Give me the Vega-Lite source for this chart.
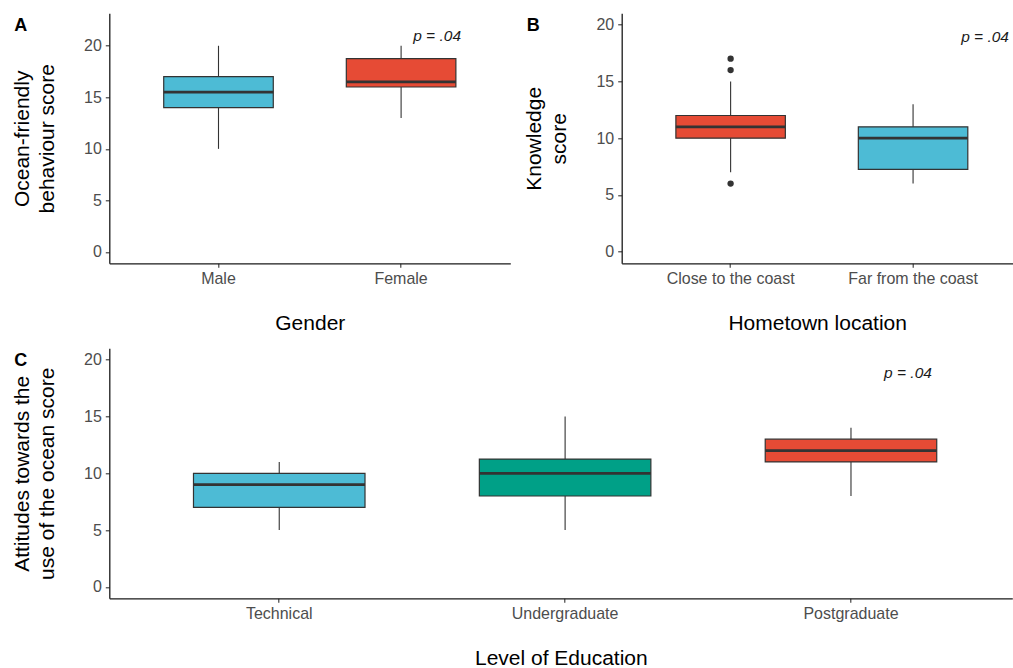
{
  "$schema": "https://vega.github.io/schema/vega-lite/v6.json",
  "background": "white",
  "padding": {"left": 10.3, "top": 13.3, "right": 0, "bottom": 0},
  "config": {
    "view": {"stroke": null},
    "font": "Liberation Sans",
    "axis": {
      "grid": false,
      "domainColor": "#1a1a1a",
      "domainWidth": 1.3,
      "tickColor": "#333333",
      "tickWidth": 1.1,
      "tickSize": 4,
      "labelFont": "Liberation Sans",
      "labelFontSize": 16,
      "labelColor": "#4d4d4d",
      "titleFont": "Liberation Sans",
      "titleFontSize": 21,
      "titleFontWeight": "normal",
      "titleColor": "#000000",
      "titleLineHeight": 25
    },
    "axisX": {"labelAngle": 0, "labelPadding": 3.5, "titleY": 49.5, "titleBaseline": "top"},
    "axisY": {"labelPadding": 4, "titleX": -81, "titleBaseline": "alphabetic"},
    "title": {"font": "Liberation Sans", "fontSize": 18, "fontWeight": "bold", "color": "#000000", "anchor": "start", "frame": "group", "orient": "top", "baseline": "top", "offset": -22, "dx": -95}
  },
  "datasets": {
    "gender": [
      {"Gender": "Male", "lower": 10, "q1": 14, "median": 15.5, "q3": 17, "upper": 20},
      {"Gender": "Female", "lower": 13, "q1": 16, "median": 16.5, "q3": 18.75, "upper": 20}
    ],
    "hometown": [
      {"Hometown": "Close to the coast", "lower": 7, "q1": 10, "median": 11, "q3": 12, "upper": 15},
      {"Hometown": "Far from the coast", "lower": 6, "q1": 7.25, "median": 10, "q3": 11, "upper": 13}
    ],
    "hometown_out": [
      {"Hometown": "Close to the coast", "value": 17},
      {"Hometown": "Close to the coast", "value": 16},
      {"Hometown": "Close to the coast", "value": 6}
    ],
    "education": [
      {"Education": "Technical", "lower": 5, "q1": 7, "median": 9, "q3": 10, "upper": 11},
      {"Education": "Undergraduate", "lower": 5, "q1": 8, "median": 10, "q3": 11.25, "upper": 15},
      {"Education": "Postgraduate", "lower": 8, "q1": 11, "median": 12, "q3": 13, "upper": 14}
    ]
  },
  "spacing": 14,
  "resolve": {"scale": {"color": "independent"}},
  "vconcat": [
    {
      "spacing": 111.4,
      "bounds": "flush",
      "resolve": {"scale": {"color": "independent"}},
      "hconcat": [
        {
          "width": 401,
          "height": 250,
          "title": {"text": "A"},
          "data": {"name": "gender"},
          "encoding": {
            "x": {"field": "Gender", "type": "nominal", "sort": ["Male", "Female"], "scale": {"paddingInner": 0, "paddingOuter": 0.098}, "axis": {"title": "Gender"}}
          },
          "layer": [
            {
              "mark": {"type": "rule", "color": "#333333", "strokeWidth": 1.1},
              "encoding": {
                "y": {"field": "lower", "type": "quantitative", "scale": {"domain": [-1.1, 23.15], "nice": false, "zero": false}, "axis": {"values": [0, 5, 10, 15, 20], "title": ["Ocean-friendly", "behaviour score"]}},
                "y2": {"field": "upper"}
              }
            },
            {
              "mark": {"type": "bar", "stroke": "#333333", "strokeWidth": 1.2, "width": {"band": 0.6}},
              "encoding": {
                "y": {"field": "q1", "type": "quantitative"},
                "y2": {"field": "q3"},
                "color": {"field": "Gender", "type": "nominal", "scale": {"domain": ["Male", "Female"], "range": ["#4DBBD5", "#E64B35"]}, "legend": null}
              }
            },
            {
              "mark": {"type": "bar", "stroke": "#333333", "fill": "#333333", "strokeWidth": 2.8, "width": {"band": 0.6}},
              "encoding": {
                "y": {"field": "median", "type": "quantitative"},
                "y2": {"field": "median"}
              }
            },
            {
              "data": {"values": [{"Gender": "Female", "y": 20.5, "label": "p = .04"}]},
              "mark": {"type": "text", "dx": 36, "fontStyle": "italic", "fontSize": 15.5, "baseline": "alphabetic", "align": "center", "color": "#1a1a1a", "font": "Liberation Sans"},
              "encoding": {
                "y": {"field": "y", "type": "quantitative"},
                "text": {"field": "label"}
              }
            }
          ]
        },
        {
          "width": 391,
          "height": 250,
          "title": {"text": "B"},
          "data": {"name": "hometown"},
          "encoding": {
            "x": {"field": "Hometown", "type": "nominal", "sort": ["Close to the coast", "Far from the coast"], "scale": {"paddingInner": 0, "paddingOuter": 0.0715, "align": 0.678}, "axis": {"title": "Hometown location"}}
          },
          "layer": [
            {
              "mark": {"type": "rule", "color": "#333333", "strokeWidth": 1.1},
              "encoding": {
                "y": {"field": "lower", "type": "quantitative", "scale": {"domain": [-1.02, 21], "nice": false, "zero": false}, "axis": {"values": [0, 5, 10, 15, 20], "title": ["Knowledge", "score"]}},
                "y2": {"field": "upper"}
              }
            },
            {
              "mark": {"type": "bar", "stroke": "#333333", "strokeWidth": 1.2, "width": {"band": 0.6}},
              "encoding": {
                "y": {"field": "q1", "type": "quantitative"},
                "y2": {"field": "q3"},
                "color": {"field": "Hometown", "type": "nominal", "scale": {"domain": ["Close to the coast", "Far from the coast"], "range": ["#E64B35", "#4DBBD5"]}, "legend": null}
              }
            },
            {
              "mark": {"type": "bar", "stroke": "#333333", "fill": "#333333", "strokeWidth": 2.8, "width": {"band": 0.6}},
              "encoding": {
                "y": {"field": "median", "type": "quantitative"},
                "y2": {"field": "median"}
              }
            },
            {
              "data": {"name": "hometown_out"},
              "mark": {"type": "point", "filled": true, "color": "#333333", "opacity": 1, "size": 40},
              "encoding": {
                "y": {"field": "value", "type": "quantitative"}
              }
            },
            {
              "data": {"values": [{"Hometown": "Far from the coast", "y": 18.48, "label": "p = .04"}]},
              "mark": {"type": "text", "dx": 72, "fontStyle": "italic", "fontSize": 15.5, "baseline": "alphabetic", "align": "center", "color": "#1a1a1a", "font": "Liberation Sans"},
              "encoding": {
                "y": {"field": "y", "type": "quantitative"},
                "text": {"field": "label"}
              }
            }
          ]
        }
      ]
    },
    {
      "width": 903,
      "height": 250,
      "title": {"text": "C"},
      "data": {"name": "education"},
      "encoding": {
        "x": {"field": "Education", "type": "nominal", "sort": ["Technical", "Undergraduate", "Postgraduate"], "scale": {"paddingInner": 0, "paddingOuter": 0.0794, "align": 0.595}, "axis": {"title": "Level of Education"}}
      },
      "layer": [
        {
          "mark": {"type": "rule", "color": "#333333", "strokeWidth": 1.1},
          "encoding": {
            "y": {"field": "lower", "type": "quantitative", "scale": {"domain": [-1, 21], "nice": false, "zero": false}, "axis": {"values": [0, 5, 10, 15, 20], "title": ["Attitudes towards the", "use of the ocean score"]}},
            "y2": {"field": "upper"}
          }
        },
        {
          "mark": {"type": "bar", "stroke": "#333333", "strokeWidth": 1.2, "width": {"band": 0.6}},
          "encoding": {
            "y": {"field": "q1", "type": "quantitative"},
            "y2": {"field": "q3"},
            "color": {"field": "Education", "type": "nominal", "scale": {"domain": ["Technical", "Undergraduate", "Postgraduate"], "range": ["#4DBBD5", "#00A087", "#E64B35"]}, "legend": null}
          }
        },
        {
          "mark": {"type": "bar", "stroke": "#333333", "fill": "#333333", "strokeWidth": 2.8, "width": {"band": 0.6}},
          "encoding": {
            "y": {"field": "median", "type": "quantitative"},
            "y2": {"field": "median"}
          }
        },
        {
          "data": {"values": [{"Education": "Postgraduate", "y": 18.4, "label": "p = .04"}]},
          "mark": {"type": "text", "dx": 57, "fontStyle": "italic", "fontSize": 15.5, "baseline": "alphabetic", "align": "center", "color": "#1a1a1a", "font": "Liberation Sans"},
          "encoding": {
            "y": {"field": "y", "type": "quantitative"},
            "text": {"field": "label"}
          }
        }
      ]
    }
  ]
}
